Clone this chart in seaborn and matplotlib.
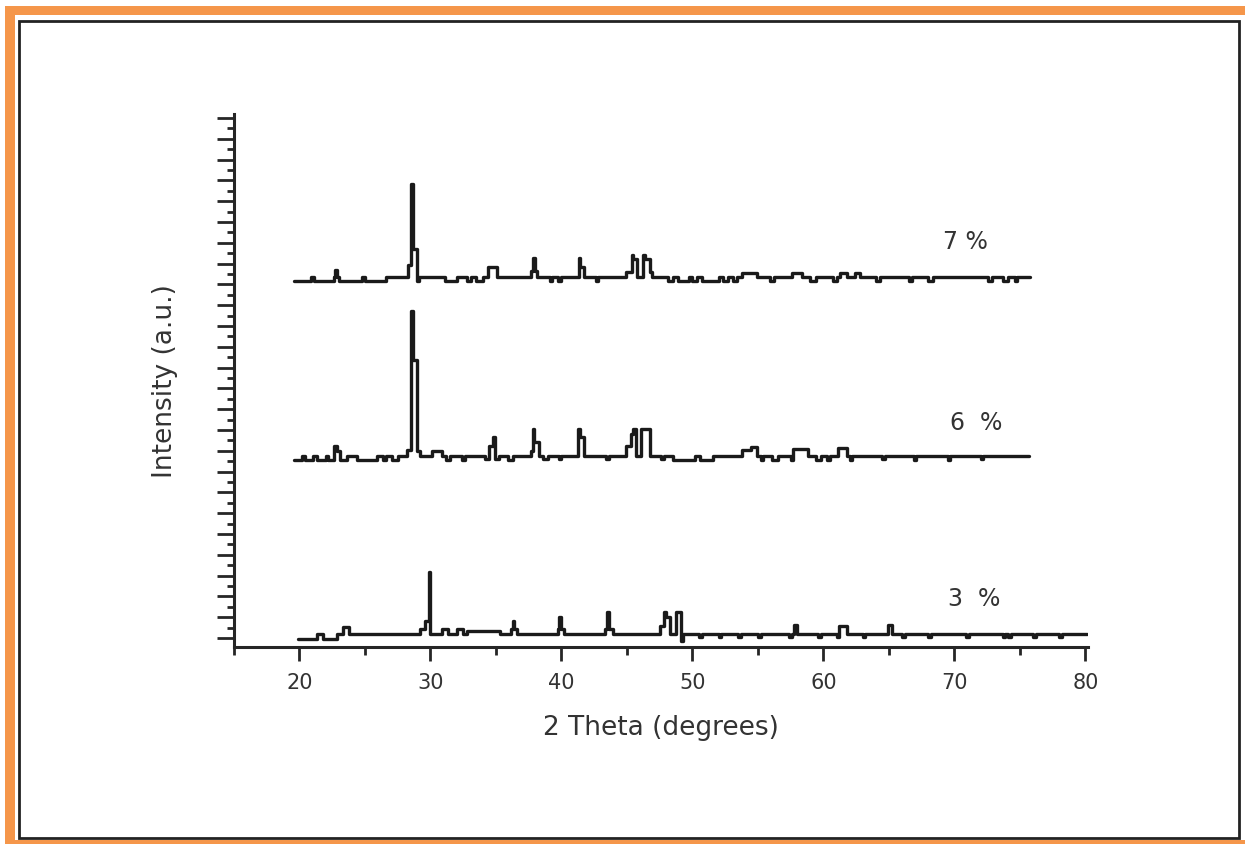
import numpy as np
import pandas as pd
import matplotlib
matplotlib.use("Agg")
import matplotlib.pyplot as plt
from matplotlib.patches import Rectangle
from matplotlib.ticker import MultipleLocator
import seaborn as sns

# XRD patterns, as step breakpoints (2 theta, counts above own baseline)
theta_7 = [19.6, 20.9, 21.1, 22.6, 22.7, 22.9, 23.0, 24.8, 25.0, 26.6, 28.3, 28.55, 28.65,
           28.95, 29.15, 31.1, 32.0, 32.8, 33.1, 33.5, 34.0, 34.4, 35.1, 37.7, 37.85, 37.95,
           38.15, 39.1, 39.3, 39.7, 40.0, 41.35, 41.45, 41.75, 42.6, 42.8, 44.9, 45.35, 45.5,
           45.75, 46.25, 46.4, 46.75, 46.95, 48.1, 48.5, 48.9, 49.7, 50.0, 50.35, 50.7, 52.0,
           52.3, 52.7, 53.1, 53.4, 53.8, 54.9, 55.9, 56.2, 57.6, 58.4, 59.0, 59.4, 60.7,
           61.0, 61.3, 61.8, 62.4, 62.8, 64.0, 64.3, 66.5, 66.8, 68.0, 68.4, 72.6, 72.9,
           73.7, 74.1, 74.6, 74.8, 75.8]
counts_7 = [-70, 0, -70, 0, 130, 0, -70, 0, -70, 0, 230, 1790, 540,
            -70, 0, -70, 0, -70, 0, -70, 0, 190, 0, 110, 360, 110,
            0, -70, 0, -70, 0, 360, 190, 0, -70, 0, 100, 420, 340,
            0, 420, 340, 100, 0, -70, 0, -70, 0, -70, 0, -70, 0,
            -70, 0, -70, 0, 80, 0, -70, 0, 80, 0, -70, 0, -70,
            0, 80, 0, 80, 0, -70, 0, -70, 0, -70, 0, -70, 0,
            -70, 0, -70, 0, 0]

theta_6 = [19.6, 20.2, 20.4, 21.0, 21.3, 22.0, 22.2, 22.6, 22.9, 23.1, 23.6, 24.4, 25.9,
           26.4, 26.6, 27.1, 27.5, 28.2, 28.55, 28.65, 28.95, 29.2, 30.1, 30.9, 31.2, 31.5,
           32.4, 32.6, 34.2, 34.5, 34.75, 34.95, 35.2, 35.9, 36.3, 37.65, 37.8, 37.9, 38.25,
           38.6, 39.0, 39.8, 40.0, 41.3, 41.42, 41.75, 43.4, 43.6, 44.9, 45.3, 45.5, 45.7,
           46.1, 46.75, 47.6, 47.8, 48.5, 50.2, 50.6, 51.6, 53.8, 54.5, 54.9, 55.2, 55.4,
           56.1, 56.5, 57.5, 57.7, 58.8, 59.4, 59.8, 60.3, 60.5, 61.1, 61.8, 62.0, 62.2,
           64.5, 64.7, 66.9, 67.1, 69.5, 69.7, 72.0, 72.2, 75.7]
counts_6 = [-80, 0, -80, 0, -80, 0, -80, 200, 100, -80, 0, -80, 0,
            -70, 0, -70, 0, 110, 2790, 1850, 100, 0, 100, 0, -70, 0,
            -70, 0, -60, 190, 370, -60, 0, -70, 0, 100, 520, 270, 0,
            -60, 0, -60, 0, 520, 370, 0, -60, 0, 200, 420, 520, 0,
            520, 0, -60, 0, -80, 0, -80, 0, 120, 170, 0, -70, 0,
            -70, 0, -70, 130, 0, -70, 0, -70, 0, 150, 0, -70, 0,
            -60, 0, -70, 0, -70, 0, -60, 0, 0]

theta_3 = [19.85, 21.3, 21.8, 22.9, 23.3, 23.8, 29.2, 29.55, 29.85, 29.95, 30.9, 31.3, 32.0,
           32.5, 32.8, 35.3, 36.15, 36.3, 36.4, 36.6, 39.7, 39.85, 39.95, 40.2, 43.3, 43.5,
           43.6, 43.9, 47.5, 47.85, 47.95, 48.3, 48.75, 49.15, 49.3, 50.5, 50.7, 52.0, 52.2,
           53.5, 53.7, 55.0, 55.2, 57.4, 57.6, 57.75, 57.95, 59.6, 59.8, 61.0, 61.2, 61.8,
           63.0, 63.2, 64.9, 65.2, 66.0, 66.2, 68.0, 68.2, 70.9, 71.1, 73.7, 73.9, 74.1,
           74.3, 76.0, 76.2, 78.0, 78.2, 80.1]
counts_3 = [-90, 0, -90, 0, 130, 0, 100, 250, 1190, 0, 100, 0, 100,
            0, 60, 0, 100, 250, 100, 0, 100, 330, 100, 0, 100, 420,
            100, 0, 150, 420, 330, 0, 420, -140, 0, -60, 0, -60, 0,
            -60, 0, -60, 0, -60, 0, 170, 0, -60, 0, -60, 150, 0,
            -60, 0, 170, 0, -60, 0, -60, 0, -60, 0, -60, 0, -60,
            0, -60, 0, -60, 0, 0]

samples = ["7 %", "6  %", "3  %"]
offsets = [6940, 3500, 80]
label_x = [69.1, 69.7, 69.5]
label_y = [7640, 4150, 770]

df = pd.concat([
    pd.DataFrame({"two_theta": t, "intensity": np.array(c) + off, "sample": s})
    for t, c, off, s in zip([theta_7, theta_6, theta_3], [counts_7, counts_6, counts_3],
                            offsets, samples)
], ignore_index=True)

sns.set_style("ticks")
plt.rcParams["font.family"] = ["DejaVu Sans"]

fig = plt.figure(figsize=(12.45, 8.45), dpi=100)
ax = fig.add_axes([234 / 1245, 1 - 648 / 845, 854 / 1245, 533 / 845])

for s in samples:
    sns.lineplot(data=df[df["sample"] == s], x="two_theta", y="intensity",
                 estimator=None, sort=False, color="#1a1a1a", linewidth=2.4,
                 drawstyle="steps-post", ax=ax)

for s, lx, ly in zip(samples, label_x, label_y):
    ax.text(lx, ly, s, fontsize=17, color="#333333", va="center", ha="left")

ax.set_xlim(15, 80.2)
ax.set_ylim(-173, 10077)
ax.xaxis.set_major_locator(MultipleLocator(10))
ax.xaxis.set_minor_locator(MultipleLocator(5))
ax.yaxis.set_major_locator(MultipleLocator(400))
ax.yaxis.set_minor_locator(MultipleLocator(200))
ax.tick_params(axis="x", which="major", length=10, width=2, labelsize=15, pad=8,
               labelcolor="#333333")
ax.tick_params(axis="x", which="minor", length=6, width=2)
ax.tick_params(axis="y", which="major", length=12, width=2, labelleft=False)
ax.tick_params(axis="y", which="minor", length=5, width=2)
sns.despine(ax=ax)
for side in ["left", "bottom"]:
    ax.spines[side].set_linewidth(2.2)

ax.set_xlabel("2 Theta (degrees)", fontsize=19, color="#333333")
ax.set_ylabel("Intensity (a.u.)", fontsize=19, color="#333333")
ax.xaxis.set_label_coords(0.5, -0.125)
ax.yaxis.set_label_coords(-0.066, 0.5)

# page frame: orange edges and black box
orange = "#f5964a"
W, H = 1245, 845
fig.add_artist(Rectangle((5 / W, 1 - 16 / H), 1, 9 / H, transform=fig.transFigure,
                         color=orange, lw=0))
fig.add_artist(Rectangle((5 / W, 0), 10 / W, 1 - 7 / H, transform=fig.transFigure,
                         color=orange, lw=0))
fig.add_artist(Rectangle((5 / W, 0), 1, 4 / H, transform=fig.transFigure,
                         color=orange, lw=0))
fig.add_artist(Rectangle((19 / W, 1 - 839 / H), 1220 / W, 817 / H, transform=fig.transFigure,
                         fill=False, edgecolor="#222222", lw=2))

fig.savefig("out.png", dpi=100, facecolor="white")
